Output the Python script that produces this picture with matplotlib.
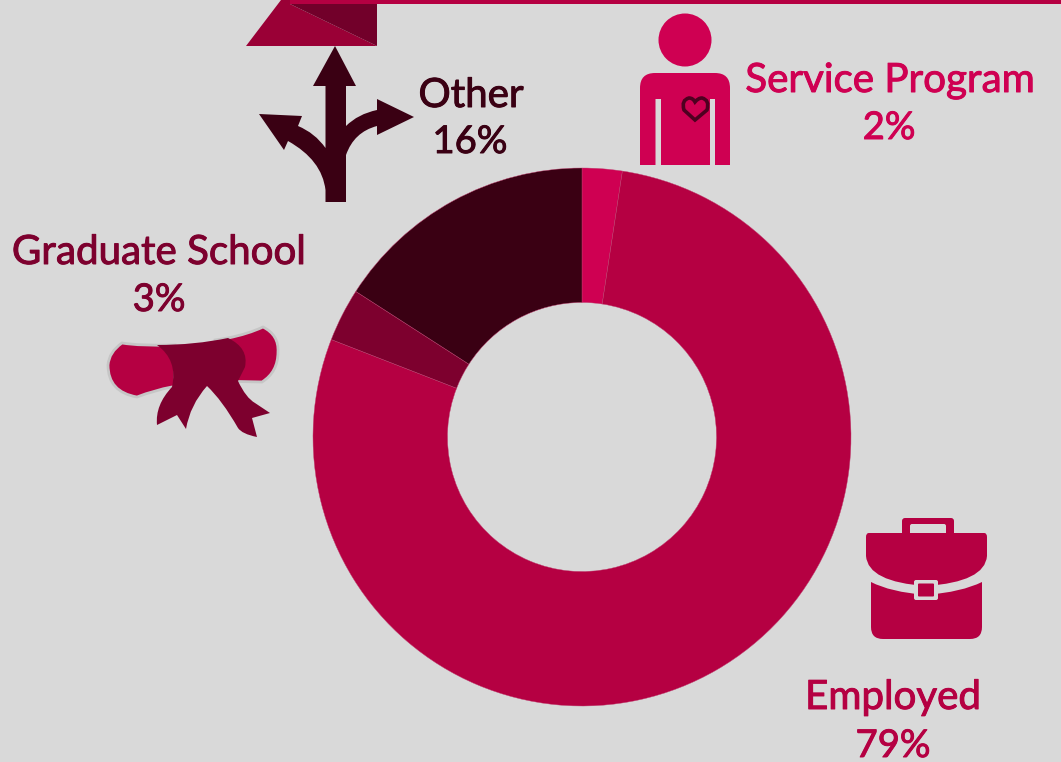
import matplotlib
matplotlib.use('Agg')
import matplotlib.pyplot as plt
import matplotlib.patheffects as pe
from matplotlib.patches import Circle, PathPatch, Polygon, Rectangle, FancyBboxPatch
from matplotlib.path import Path

# slices, clockwise from 12 o'clock
categories = ['Service Program', 'Employed', 'Graduate School', 'Other']
shares = [2.4, 78.5, 3.2, 15.9]
share_labels = ['2%', '79%', '3%', '16%']

W, H = 1061, 762
BG = '#D9D9D9'
colors = ['#CF0052', '#B50042', '#7D002E', '#3A0013']

plt.rcParams['font.family'] = ['Lato', 'DejaVu Sans']

fig = plt.figure(figsize=(W / 100, H / 100), dpi=100, facecolor=BG)

# donut axes, centre (582,437) radius 269 px
R = 269
cx, cy = 582, 437
pie_ax = fig.add_axes([(cx - R) / W, 1 - (cy + R) / H, 2 * R / W, 2 * R / H])
pie_ax.pie(shares, colors=colors, startangle=90, counterclock=False, radius=1,
           wedgeprops=dict(width=0.5, linewidth=0.3, edgecolor='#C04070'))
pie_ax.set_xlim(-1, 1)
pie_ax.set_ylim(-1, 1)

# overlay in image pixels for icons and labels
ax = fig.add_axes([0, 0, 1, 1], zorder=3)
ax.set_xlim(0, W)
ax.set_ylim(H, 0)
ax.axis('off')


def shape(spec, color, **kw):
    verts, codes = [], []
    for code, pts in spec:
        verts.extend(pts)
        codes.extend([code] * len(pts))
    verts.append(verts[0])
    codes.append(Path.CLOSEPOLY)
    p = PathPatch(Path(verts, codes), facecolor=color, edgecolor=kw.pop('edgecolor', 'none'), **kw)
    ax.add_patch(p)
    return p


M, L, C = Path.MOVETO, Path.LINETO, Path.CURVE3

# top rule and banner
ax.add_patch(Polygon([(246, 46), (281, 0), (290, 0), (290, 4), (377, 46)], color='#9A0036', lw=0))
ax.add_patch(Polygon([(290, 4), (377, 4), (377, 46)], color='#72002A', lw=0))
ax.add_patch(Rectangle((290, 0), W - 290, 4, color='#B50042', lw=0))

# fork arrows
dark = colors[3]
shape([(M, [(335, 46)]),
       (L, [(356, 86), (346, 86), (346, 126)]),
       (C, [(358, 114), (377, 110)]),
       (L, [(377, 99), (414, 117), (377, 135), (377, 126)]),
       (C, [(354, 132), (346, 155)]),
       (L, [(346, 202), (325.5, 202), (325.5, 190)]),
       (C, [(322, 160), (288, 141)]),
       (L, [(284, 150), (259, 114), (302, 116), (298, 126)]),
       (C, [(315, 133), (325.5, 148)]),
       (L, [(325.5, 86), (313, 86)])], dark)

# person
person = colors[0]
ax.add_patch(Circle((685, 40), 26.5, color=person, lw=0))
shape([(M, [(640, 165)]),
       (L, [(640, 88)]),
       (C, [(640, 73), (655, 73)]),
       (L, [(715, 73)]),
       (C, [(730, 73), (730, 88)]),
       (L, [(730, 165), (715, 165), (715, 99), (710, 99), (710, 165),
            (661, 165), (661, 99), (655.5, 99), (655.5, 165)])], person)
shape([(M, [(695, 120)]),
       (L, [(684, 110)]),
       (C, [(681, 100), (689, 98)]),
       (C, [(693, 98), (695, 102)]),
       (C, [(698, 98), (702, 98)]),
       (C, [(710, 100), (707, 110)])], 'none', edgecolor='#4E0020', linewidth=2.6)

# diploma, scroll ends run under the ribbon
scroll = colors[1]
ribbon = colors[2]
shape([(M, [(122, 343)]),
       (C, [(140, 346), (175, 345)]),
       (L, [(175, 387), (172, 387)]),
       (C, [(155, 390), (137, 397)]),
       (C, [(108, 392), (108, 365)]),
       (C, [(109, 352), (122, 343)])], scroll, edgecolor='#C6C6C6', linewidth=2)
shape([(M, [(215, 340)]),
       (L, [(228, 338)]),
       (C, [(248, 334), (263, 327)]),
       (C, [(279, 335), (278, 352)]),
       (C, [(278, 372), (262, 382)]),
       (L, [(215, 381)])], scroll, edgecolor='#C6C6C6', linewidth=2)
shape([(M, [(157, 345)]),
       (C, [(195, 345), (228, 338)]),
       (C, [(249, 348), (245, 367)]),
       (L, [(238, 381)]),
       (C, [(246, 398), (255, 403)]),
       (L, [(270, 413), (252, 418), (257, 437)]),
       (C, [(242, 434), (238, 428)]),
       (C, [(222, 400), (207, 386)]),
       (C, [(190, 405), (186, 429)]),
       (L, [(177, 415), (157, 425)]),
       (C, [(155, 405), (172, 387)]),
       (C, [(178, 360), (157, 345)])], ribbon)

# briefcase
case = colors[1]
handle = FancyBboxPatch((904, 520), 48, 20, boxstyle='round,pad=2,rounding_size=3', color=case, lw=0)
ax.add_patch(handle)
ax.add_patch(FancyBboxPatch((910, 524), 36, 12, boxstyle='round,pad=0,rounding_size=2', color=BG, lw=0))
shape([(M, [(869, 533)]),
       (L, [(984, 533)]),
       (C, [(987, 533), (987, 537)]),
       (L, [(987, 556)]),
       (C, [(985, 582), (926, 586)]),
       (C, [(868, 582), (866, 556)]),
       (L, [(866, 537)]),
       (C, [(866, 533), (869, 533)])], case)
shape([(M, [(871, 582)]),
       (C, [(890, 592), (926, 595)]),
       (C, [(962, 592), (982, 582)]),
       (L, [(982, 627)]),
       (C, [(982, 639), (970, 639)]),
       (L, [(883, 639)]),
       (C, [(871, 639), (871, 627)])], case)
ax.add_patch(FancyBboxPatch((914, 580), 24, 20, boxstyle='round,pad=0,rounding_size=2', color=BG, lw=0))
ax.add_patch(FancyBboxPatch((918, 583.5), 16, 13, boxstyle='round,pad=0,rounding_size=1', color=case, lw=0))

# labels: name and share stacked, placed on their baselines
name_pos = [(890, 92), (893, 709), (159, 264), (471, 107)]
share_pos = [(889, 139), (893, 757), (159, 311), (470, 153)]
for i, cat in enumerate(categories):
    c = colors[i]
    stroke = [pe.withStroke(linewidth=0.7, foreground=c)]
    ax.text(*name_pos[i], cat, color=c, fontsize=29, ha='center', va='baseline', path_effects=stroke)
    ax.text(*share_pos[i], share_labels[i], color=c, fontsize=27.5, ha='center', va='baseline', path_effects=stroke)

fig.savefig('out.png', dpi=100, facecolor=BG)
